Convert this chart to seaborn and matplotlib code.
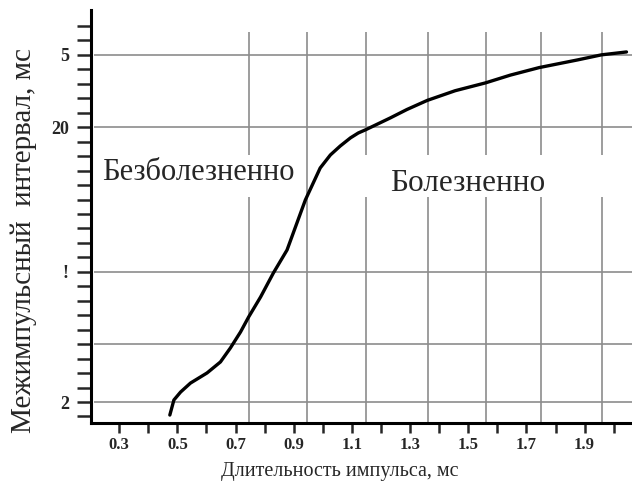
import matplotlib
matplotlib.use("Agg")
import matplotlib.pyplot as plt
import seaborn as sns
import numpy as np
import pandas as pd

# curve (x: pulse length, ms; y: in axis tick units)
pulse = [0.474, 0.488, 0.511, 0.545, 0.602, 0.648, 0.682, 0.717, 0.745, 0.786,
         0.830, 0.877, 0.940, 0.991, 1.026, 1.060, 1.095, 1.122, 1.146, 1.232,
         1.289, 1.359, 1.455, 1.559, 1.645, 1.744, 1.876, 1.958, 2.044]
interval = [-0.90, 0.14, 0.69, 1.31, 2.01, 2.77, 3.73, 4.84, 5.88, 7.26,
            8.92, 10.51, 13.97, 16.18, 17.08, 17.70, 18.26, 18.60, 18.81, 19.64,
            20.22, 20.85, 21.52, 22.06, 22.60, 23.12, 23.65, 24.0, 24.2]

xticks_major = [0.3, 0.5, 0.7, 0.9, 1.1, 1.3, 1.5, 1.7, 1.9]
xtick_labels = ["0.3", "0.5", "0.7", "0.9", "1.1", "1.3", "1.5", "1.7", "1.9"]
xticks_minor = [0.4, 0.6, 0.8, 1.0, 1.2, 1.4, 1.6, 1.8, 2.0]
yticks_major = [0, 4, 9, 19, 24]
ytick_labels = ["2", "", "!", "20", "5"]
vgrid = [0.745, 0.945, 1.15, 1.36, 1.56, 1.75, 1.96]

df = pd.DataFrame({"x": pulse, "y": interval})

sns.set_style("white")
plt.rcParams["font.family"] = ["Liberation Serif", "DejaVu Serif"]

fig = plt.figure(figsize=(6.32, 4.9), dpi=100)
ax = fig.add_axes([91 / 632, (490 - 423) / 490, 1 - 91 / 632, (423 - 10) / 490])
ax.set_xlim(0.203, 2.063)
ax.set_ylim(-1.45, 27.1)

grid_kw = dict(color="#8c8c8c", lw=1.2, zorder=1)
ax.hlines(yticks_major, 0.215, 2.07, **grid_kw)
for gx in vgrid:
    if gx == 0.945:
        ax.vlines(gx, -1.45, 25.6, **grid_kw)
    else:
        ax.vlines(gx, -1.45, 14.18, **grid_kw)
        ax.vlines(gx, 17.08, 25.6, **grid_kw)

sns.lineplot(data=df, x="x", y="y", color="black", lw=2.4, sort=False, ax=ax, zorder=3)

ax.text(0.24, 15.9, "Безболезненно", fontsize=22, va="center", ha="left")
ax.text(1.232, 15.1, "Болезненно", fontsize=22.5, va="center", ha="left")

for s in ["top", "right"]:
    ax.spines[s].set_visible(False)
for s in ["left", "bottom"]:
    ax.spines[s].set_linewidth(2.2)
    ax.spines[s].set_color("black")

ax.set_xticks(xticks_major)
ax.set_xticklabels(xtick_labels, fontweight="bold", fontsize=12)
ax.set_xticks(xticks_minor, minor=True)
ax.set_yticks(yticks_major)
ax.set_yticklabels(ytick_labels, fontweight="bold", fontsize=13)
ax.set_yticks(range(-1, 27), minor=True)
ax.tick_params(axis="x", which="both", direction="out", length=7, width=1.8, pad=3, bottom=True)
ax.tick_params(axis="y", which="both", direction="out", length=10, width=1.8, pad=6, left=True)

ax.set_xlabel("Длительность импульса, мс", fontsize=14.5)
ax.set_ylabel("Межимпульсный  интервал, мс", fontsize=21)
ax.xaxis.set_label_coords(0.46, -0.094)
ax.yaxis.set_label_coords(-0.1, 0.443)

fig.savefig("out.png", dpi=100)
